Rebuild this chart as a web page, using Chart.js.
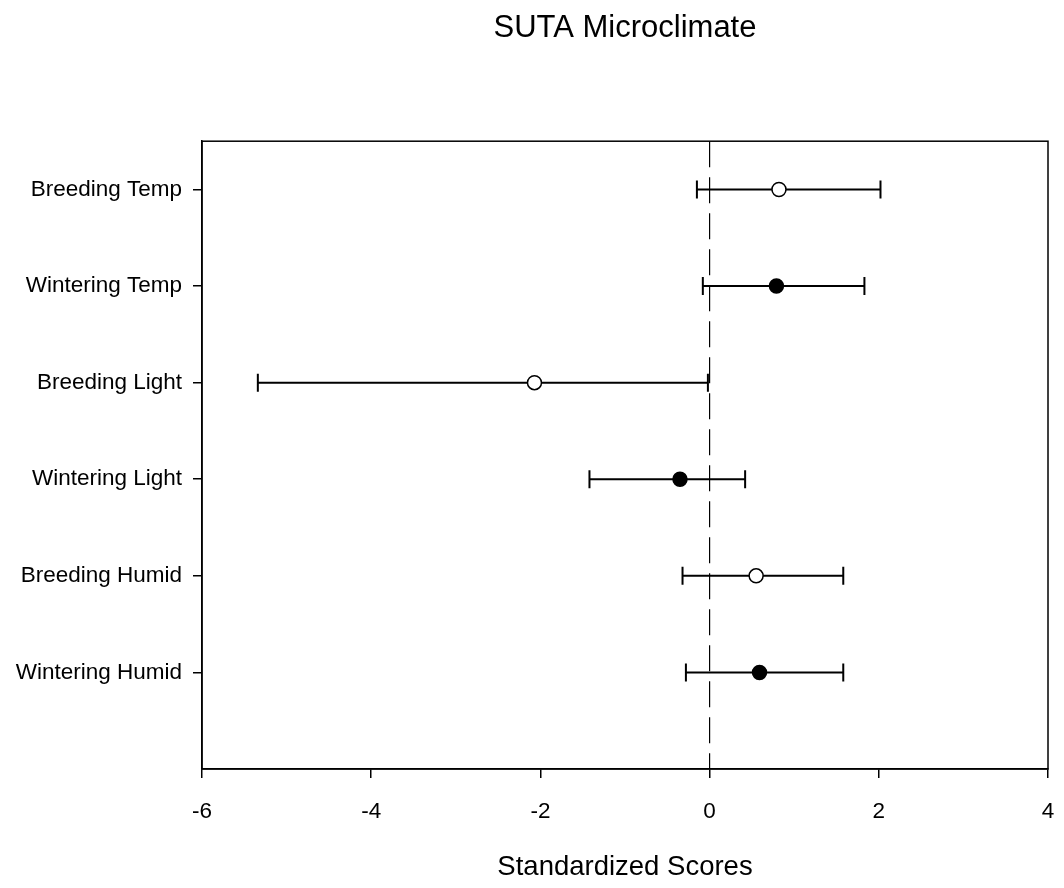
<!DOCTYPE html>
<html>
<head>
<meta charset="utf-8">
<script src="https://cdn.jsdelivr.net/npm/chart.js@4"></script>
<style>
  body { margin: 0; background: #fff; }
  #wrap { width: 1064px; height: 888px; }
</style>
</head>
<body>
<div id="wrap"><canvas id="forest-chart"></canvas></div>
<script>
// categories top to bottom
const categories = ['Breeding Temp', 'Wintering Temp', 'Breeding Light', 'Wintering Light', 'Breeding Humid', 'Wintering Humid'];
const means = [0.82, 0.79, -2.07, -0.35, 0.55, 0.59];
const lower = [-0.15, -0.08, -5.34, -1.42, -0.32, -0.28];
const upper = [2.02, 1.83, -0.02, 0.42, 1.58, 1.58];
const season = ['Breeding', 'Wintering', 'Breeding', 'Wintering', 'Breeding', 'Wintering'];
const xTicks = [-6, -4, -2, 0, 2, 4];

const rowPos = categories.map((c, i) => categories.length - i);

function pointsFor(kind) {
    return categories
        .map((c, i) => ({ x: means[i], y: rowPos[i], s: season[i] }))
        .filter(p => p.s === kind);
}

Chart.defaults.font.family = '"Liberation Sans", Arial, sans-serif';
Chart.defaults.color = '#000';

// frame, zero reference line and error bars
const extras = {
    id: 'extras',
    beforeDatasetsDraw(chart) {
        const { ctx, chartArea: a, scales: { x, y } } = chart;
        ctx.save();
        ctx.strokeStyle = '#000';

        ctx.lineWidth = 1.5;
        ctx.strokeRect(a.left, a.top, a.right - a.left, a.bottom - a.top);

        let x0 = x.getPixelForValue(0);
        ctx.lineWidth = 1.2;
        ctx.setLineDash([26, 10]);
        ctx.beginPath();
        ctx.moveTo(x0, a.top);
        ctx.lineTo(x0, a.bottom);
        ctx.stroke();
        ctx.setLineDash([]);

        ctx.lineWidth = 2;
        categories.forEach((c, i) => {
            let py = y.getPixelForValue(rowPos[i]);
            let xl = x.getPixelForValue(lower[i]);
            let xh = x.getPixelForValue(upper[i]);
            ctx.beginPath();
            ctx.moveTo(xl, py);
            ctx.lineTo(xh, py);
            ctx.moveTo(xl, py - 9);
            ctx.lineTo(xl, py + 9);
            ctx.moveTo(xh, py - 9);
            ctx.lineTo(xh, py + 9);
            ctx.stroke();
        });
        ctx.restore();
    }
};

let box = document.getElementById('forest-chart');

new Chart(box.getContext('2d'), {
    type: 'scatter',
    data: {
        datasets: [{
            label: 'Breeding',
            data: pointsFor('Breeding'),
            backgroundColor: '#fff',
            borderColor: '#000',
            borderWidth: 1.5,
            pointRadius: 7,
            pointHoverRadius: 7
        }, {
            label: 'Wintering',
            data: pointsFor('Wintering'),
            backgroundColor: '#000',
            borderColor: '#000',
            borderWidth: 1.5,
            pointRadius: 7,
            pointHoverRadius: 7
        }]
    },
    options: {
        responsive: true,
        maintainAspectRatio: false,
        animation: false,
        events: [],
        layout: { padding: { left: 0, right: 16, top: 0, bottom: 0 } },
        plugins: {
            legend: { display: false },
            tooltip: { enabled: false },
            title: {
                display: true,
                text: 'SUTA Microclimate',
                fullSize: false,
                color: '#000',
                font: { size: 31, weight: 'normal' },
                padding: { top: 10, bottom: 94 }
            }
        },
        scales: {
            x: {
                type: 'linear',
                min: -6,
                max: 4,
                afterBuildTicks(scale) {
                    scale.ticks = xTicks.map(v => ({ value: v }));
                },
                afterFit(scale) {
                    scale.height = 119;
                    scale.paddingLeft = 0;
                    scale.paddingRight = 0;
                },
                ticks: {
                    font: { size: 22.5 },
                    color: '#000',
                    padding: 20,
                    maxRotation: 0
                },
                grid: {
                    drawOnChartArea: false,
                    drawTicks: true,
                    tickLength: 9,
                    color: '#000',
                    lineWidth: 1.5
                },
                border: { display: true, color: '#000', width: 1.5 },
                title: {
                    display: true,
                    text: 'Standardized Scores',
                    color: '#000',
                    font: { size: 27.5 },
                    padding: { top: 0, bottom: 4 }
                }
            },
            y: {
                type: 'linear',
                min: 0,
                max: 6.5,
                afterBuildTicks(scale) {
                    scale.ticks = rowPos.map(v => ({ value: v }));
                },
                afterFit(scale) {
                    scale.width = 202;
                },
                ticks: {
                    font: { size: 22.5 },
                    color: '#000',
                    padding: 11,
                    callback: function (value) {
                        let i = rowPos.indexOf(value);
                        return i >= 0 ? categories[i] : '';
                    }
                },
                grid: {
                    drawOnChartArea: false,
                    drawTicks: true,
                    tickLength: 9,
                    color: '#000',
                    lineWidth: 1.5
                },
                border: { display: true, color: '#000', width: 1.5 }
            }
        }
    },
    plugins: [extras]
});
</script>
</body>
</html>
